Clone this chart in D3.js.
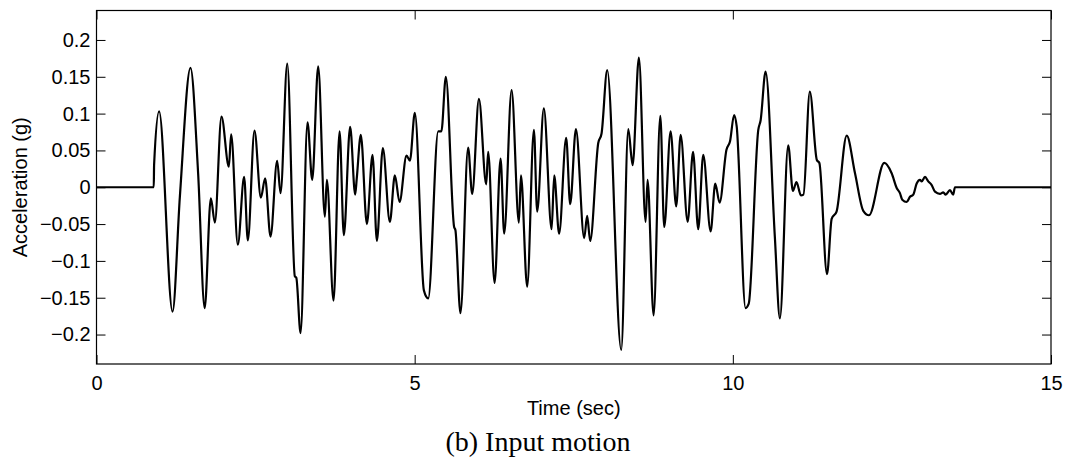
<!DOCTYPE html>
<html>
<head>
<meta charset="utf-8">
<script src="https://cdn.jsdelivr.net/npm/d3@7"></script>
<style>
  body { margin: 0; background: #fff; }
  .axis text { font-family: "Liberation Sans", Arial, sans-serif; font-size: 20px; fill: #000; }
  .axis line { stroke: #000; stroke-width: 1; }
  .label { font-family: "Liberation Sans", Arial, sans-serif; font-size: 20px; fill: #000; }
  .caption { font-family: "Liberation Serif", "Times New Roman", serif; font-size: 28px; fill: #000; }
</style>
</head>
<body>
<div id="svgOutput"></div>
<script>
// Data (time in sec, acceleration in g)

const times = [
  0, 0.9, 0.905, 0.984, 1.195, 1.31, 1.477, 1.597, 1.70, 1.797, 1.86, 1.964, 2.08, 2.116,
  2.221, 2.32, 2.378, 2.483, 2.583, 2.65, 2.735, 2.839, 2.892, 2.998, 3.117, 3.14, 3.207,
  3.316, 3.39, 3.484, 3.589, 3.62, 3.725, 3.82, 3.887, 3.986, 4.065, 4.09, 4.154, 4.249,
  4.338, 4.406, 4.5, 4.61, 4.689, 4.762, 4.872, 4.925, 5.003, 5.145, 5.213, 5.37, 5.42,
  5.49, 5.62, 5.64, 5.72, 5.84, 5.904, 6.01, 6.124, 6.155, 6.256, 6.35, 6.407, 6.523,
  6.638, 6.67, 6.768, 6.874, 6.925, 7.03, 7.152, 7.193, 7.27, 7.381, 7.444, 7.534, 7.664,
  7.711, 7.758, 7.885, 7.937, 8.026, 8.246, 8.357, 8.425, 8.524, 8.629, 8.66, 8.755, 8.86,
  8.922, 9.022, 9.11, 9.18, 9.29, 9.375, 9.456, 9.535, 9.651, 9.724, 9.792, 9.9, 9.955,
  10.02, 10.06, 10.2, 10.25, 10.4, 10.437, 10.515, 10.66, 10.74, 10.87, 10.944, 11.0,
  11.07, 11.11, 11.21, 11.32, 11.36, 11.48, 11.553, 11.63, 11.79, 11.92, 12.05, 12.14,
  12.38, 12.496, 12.575, 12.626, 12.663, 12.732, 12.784, 12.836, 12.889, 12.941, 12.967,
  13.02, 13.071, 13.125, 13.177, 13.255, 13.307, 13.345, 13.412, 13.464, 13.49, 15
];

const accel = [
  0, 0, 0.03, 0.103, -0.169, -0.013, 0.162, 0.019, -0.164, -0.015, -0.048, 0.096, 0.028, 0.072,
  -0.078, 0.014, -0.072, 0.077, -0.014, 0.012, -0.067, 0.036, -0.008, 0.168, -0.121, -0.123, -0.198,
  0.088, 0.010, 0.164, -0.040, 0.010, -0.154, 0.076, -0.065, 0.082, -0.010, 0.012, 0.071, -0.050,
  0.044, -0.073, 0.053, -0.047, 0.016, -0.020, 0.043, 0.036, 0.101, -0.140, -0.151, 0.076, 0.076,
  0.150, -0.054, -0.058, -0.171, 0.054, -0.009, 0.120, 0.004, 0.048, -0.130, 0.039, -0.063, 0.132,
  -0.048, 0.016, -0.135, 0.078, -0.033, 0.107, -0.057, 0.016, -0.063, 0.067, -0.023, 0.079, -0.069,
  -0.039, -0.073, 0.060, 0.073, 0.159, -0.221, 0.079, 0.030, 0.176, -0.047, 0.010, -0.174, 0.097,
  -0.054, 0.076, -0.026, 0.071, -0.047, 0.048, -0.057, 0.044, -0.060, 0.005, -0.021, 0.051, 0.062,
  0.098, 0.083, -0.164, -0.158, 0.078, 0.091, 0.157, -0.067, -0.178, 0.057, -0.005, 0.007,
  -0.011, -0.010, 0.130, 0.037, 0.033, -0.118, -0.043, -0.033, 0.070, 0.019, -0.032, -0.038,
  0.033, 0.019, -0.001, -0.008, -0.017, -0.020, -0.013, -0.010, 0.005, 0.010, 0.008,
  0.014, 0.008, 0.003, -0.006, -0.009, -0.007, -0.010, -0.004, -0.010, 0, 0
];

const xTicks = [0, 5, 10, 15];
const yTicks = [-0.2, -0.15, -0.1, -0.05, 0, 0.05, 0.1, 0.15, 0.2];

const xLabel = "Time (sec)";
const yLabel = "Acceleration (g)";
const caption = "(b) Input motion";

// Config

const width = 1065;
const height = 457;
const margin = { top: 10.5, right: 14, bottom: 93, left: 96.5 };
const tickLen = 9;

const svg = d3.select("#svgOutput")
  .append("svg")
  .attr("width", width)
  .attr("height", height);

// Scales

const xScale = d3.scaleLinear()
  .domain([0, 15])
  .range([margin.left, width - margin.right]);

const yScale = d3.scaleLinear()
  .domain([-0.24, 0.24])
  .range([height - margin.bottom, margin.top]);

const fmt = d => String(d).replace("-", "\u2212");

// Axes, ticks point inwards on all four sides

svg.append("g")
  .attr("class", "axis")
  .attr("transform", `translate(0, ${height - margin.bottom})`)
  .call(d3.axisBottom(xScale).tickValues(xTicks).tickSize(-tickLen).tickPadding(12).tickFormat(fmt))
  .call(g => g.select(".domain").remove());

svg.append("g")
  .attr("class", "axis")
  .attr("transform", `translate(0, ${margin.top})`)
  .call(d3.axisTop(xScale).tickValues(xTicks).tickSize(-tickLen).tickFormat(""))
  .call(g => g.select(".domain").remove());

svg.append("g")
  .attr("class", "axis")
  .attr("transform", `translate(${margin.left}, 0)`)
  .call(d3.axisLeft(yScale).tickValues(yTicks).tickSize(-tickLen).tickPadding(6).tickFormat(fmt))
  .call(g => g.select(".domain").remove());

svg.append("g")
  .attr("class", "axis")
  .attr("transform", `translate(${width - margin.right}, 0)`)
  .call(d3.axisRight(yScale).tickValues(yTicks).tickSize(-tickLen).tickFormat(""))
  .call(g => g.select(".domain").remove());

// Box

svg.append("rect")
  .attr("x", margin.left)
  .attr("y", margin.top)
  .attr("width", width - margin.left - margin.right)
  .attr("height", height - margin.top - margin.bottom)
  .attr("fill", "none")
  .attr("stroke", "#000")
  .attr("stroke-width", 1.2);

// Signal

const points = times.map((t, i) => ({ t: t, a: accel[i] }));

const line = d3.line()
  .x(d => xScale(d.t))
  .y(d => yScale(d.a))
  .curve(d3.curveMonotoneX);

svg.append("path")
  .datum(points)
  .attr("d", line)
  .attr("fill", "none")
  .attr("stroke", "#000")
  .attr("stroke-width", 2.2)
  .attr("stroke-linejoin", "round");

// Labels

svg.append("text")
  .attr("class", "label")
  .attr("x", (margin.left + width - margin.right) / 2)
  .attr("y", 415)
  .attr("text-anchor", "middle")
  .text(xLabel);

svg.append("text")
  .attr("class", "label")
  .attr("transform", `translate(27, ${(margin.top + height - margin.bottom) / 2}) rotate(-90)`)
  .attr("text-anchor", "middle")
  .text(yLabel);

svg.append("text")
  .attr("class", "caption")
  .attr("x", 538)
  .attr("y", 451)
  .attr("text-anchor", "middle")
  .text(caption);
</script>
</body>
</html>
